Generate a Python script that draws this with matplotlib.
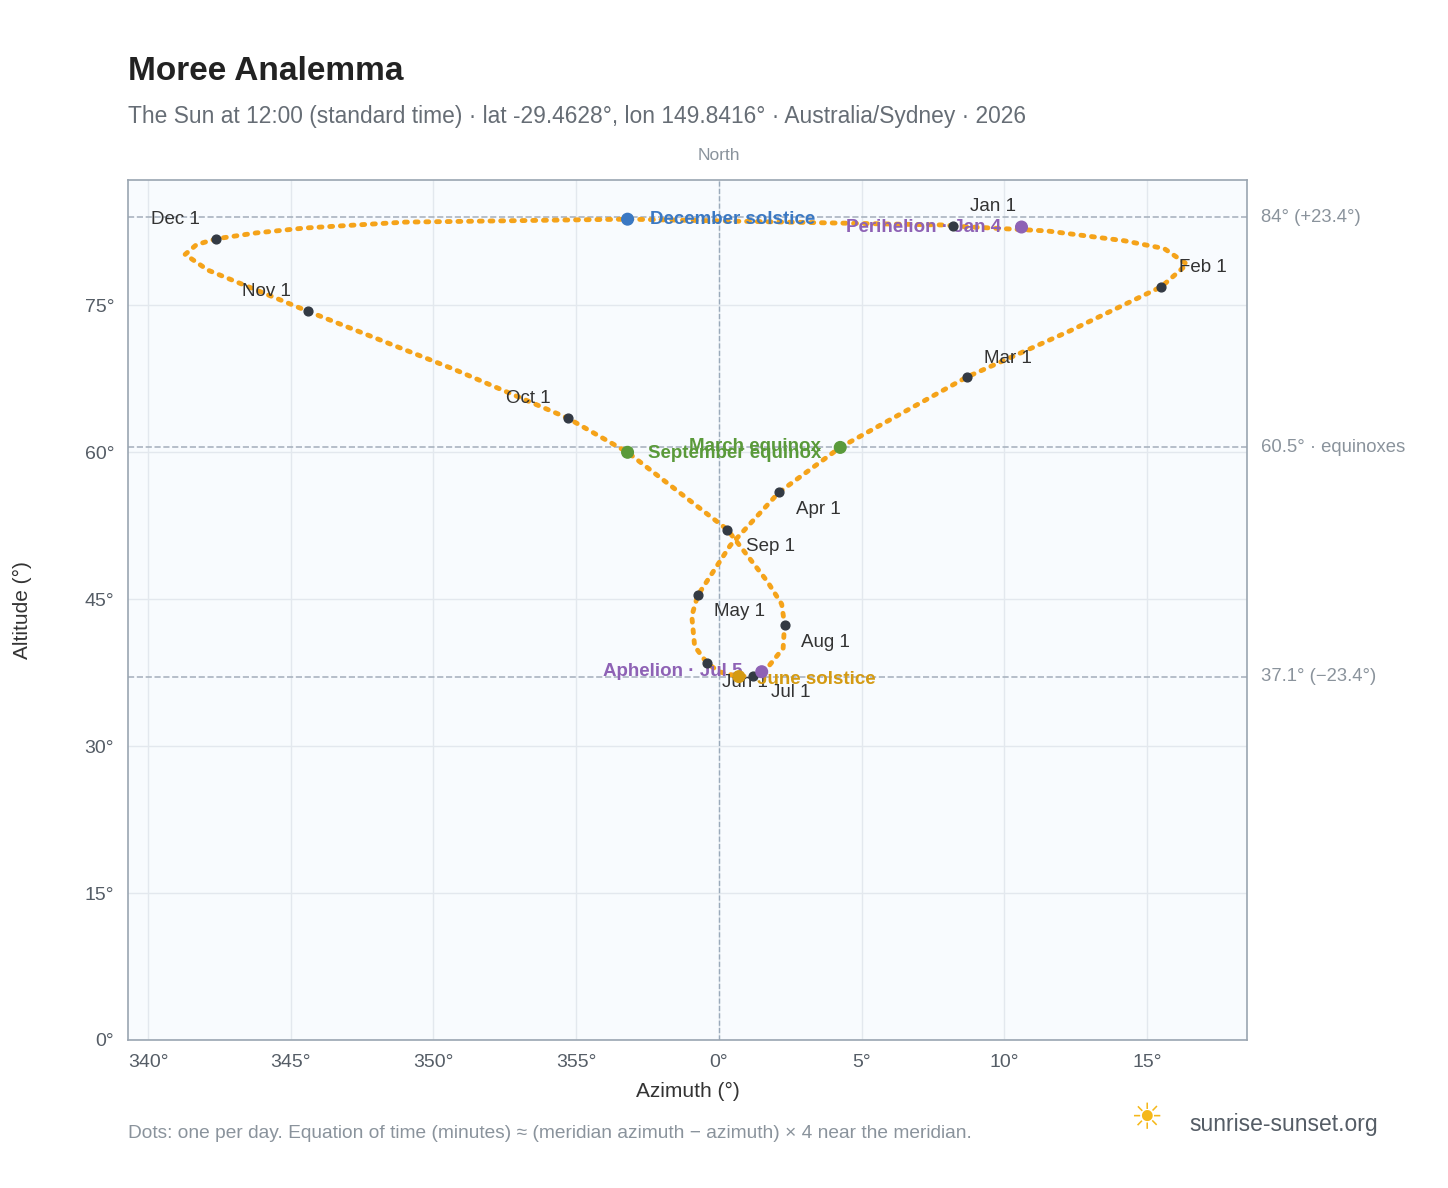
import matplotlib.pyplot as plt

plt.rcParams['font.family'] = ['Liberation Sans', 'DejaVu Sans']

# sun position at 12:00 (azimuth west of north as negative)
path_az = [8.2, 11.5, 14.2, 15.6, 16.4, 15.5, 12.3, 8.7, 4.25, 2.1, 0.4, -0.74, -0.95, -0.85,
           -0.42, 0.0, 0.7, 1.2, 1.7, 2.25, 2.3, 2.2, 1.7, 0.3, -3.2, -5.3, -9.3, -14.4, -17.9,
           -18.7, -18.3, -17.6, -16.2, -14.5, -11.0, -3.2, 8.0]
path_alt = [83.1, 82.6, 81.6, 80.8, 79.2, 76.9, 72.4, 67.7, 60.5, 55.9, 50.5, 45.4, 43.3, 40.2,
            38.5, 37.6, 37.1, 37.2, 38.0, 40.0, 42.4, 44.5, 46.8, 52.1, 60.0, 63.5, 68.5, 74.4,
            78.6, 80.2, 81.2, 81.8, 82.4, 82.9, 83.5, 83.8, 83.2]

months = ['Jan 1', 'Feb 1', 'Mar 1', 'Apr 1', 'May 1', 'Jun 1', 'Jul 1', 'Aug 1', 'Sep 1',
          'Oct 1', 'Nov 1', 'Dec 1']
month_az = [8.2, 15.5, 8.7, 2.1, -0.74, -0.42, 1.2, 2.3, 0.3, -5.3, -14.4, -17.6]
month_alt = [83.1, 76.9, 67.7, 55.9, 45.4, 38.5, 37.2, 42.4, 52.1, 63.5, 74.4, 81.8]
month_off = [(12, 14), (13, 14), (12, 13), (12, -12), (12, -12), (11, -14), (13, -12),
             (12, -13), (13, -12), (-12, 14), (-12, 14), (-12, 14)]
month_ha = ['left'] * 9 + ['right'] * 3

events = ['December solstice', 'March equinox', 'September equinox', 'June solstice',
          'Perihelion · Jan 4', 'Aphelion · Jul 5']
event_az = [-3.2, 4.25, -3.2, 0.7, 10.6, 1.5]
event_alt = [83.8, 60.5, 60.0, 37.1, 83.0, 37.6]
event_col = ['#3a78c3', '#5a9a3a', '#5a9a3a', '#d49a12', '#8e62b5', '#8e62b5']
event_off = [(16, 0), (-14, 1), (15, -1), (13, -2), (-15, 0), (-14, 0)]
event_ha = ['left', 'right', 'left', 'left', 'right', 'right']

ref_alt = [84.0, 60.5, 37.1]
ref_lbl = ['84° (+23.4°)', '60.5° · equinoxes', '37.1° (−23.4°)']

fig = plt.figure(figsize=(14.48, 11.88), dpi=100)
ax = fig.add_axes([128 / 1448, 1 - 1040 / 1188, 1119 / 1448, 860 / 1188])
ax.set_facecolor('#f8fbfe')
ax.set_xlim(-20.7, 18.5)
ax.set_ylim(0, 87.8)
ax.grid(color='#e3e8ee', lw=1)
ax.set_axisbelow(True)
for s in ax.spines.values():
    s.set_color('#9aa5b1')
    s.set_linewidth(1.2)

xt = [-20, -15, -10, -5, 0, 5, 10, 15]
ax.set_xticks(xt)
ax.set_xticklabels(['%d°' % (v % 360) for v in xt])
ax.set_yticks([0, 15, 30, 45, 60, 75])
ax.set_yticklabels(['%d°' % v for v in [0, 15, 30, 45, 60, 75]])
ax.tick_params(colors='#555d66', labelsize=14, length=0, pad=10)
ax.set_xlabel('Azimuth (°)', fontsize=15, color='#333', labelpad=8)
ax.set_ylabel('Altitude (°)', fontsize=15, color='#333', labelpad=38)

ax.axvline(0, color='#9aaabb', ls='--', lw=1)
ax.text(0, 89.5, 'North', ha='center', va='bottom', fontsize=12.5, color='#8a939c')
for a, l in zip(ref_alt, ref_lbl):
    ax.axhline(a, color='#aab4c0', ls='--', lw=1.2)
    ax.text(19.0, a, l, va='center', fontsize=13.3, color='#8a939c')

ax.plot(path_az + path_az[:1], path_alt + path_alt[:1], color='#f5a31a', lw=3.5,
        ls=(0, (0.6, 1.6)), dash_capstyle='round')

ax.scatter(month_az, month_alt, s=40, color='#333a44', zorder=4)
for x, y, t, o, h in zip(month_az, month_alt, months, month_off, month_ha):
    ax.annotate(t, (x, y), xytext=o, textcoords='offset points', fontsize=13.5, color='#333',
                va='center', ha=h)

ax.scatter(event_az, event_alt, s=70, color=event_col, zorder=5)
for x, y, t, c, o, h in zip(event_az, event_alt, events, event_col, event_off, event_ha):
    ax.annotate(t, (x, y), xytext=o, textcoords='offset points', fontsize=13.5, color=c,
                fontweight='bold', va='center', ha=h)

fig.text(128 / 1448, 1 - 72 / 1188, 'Moree Analemma', fontsize=24, fontweight='bold',
         color='#222', va='center')
fig.text(128 / 1448, 1 - 116 / 1188,
         'The Sun at 12:00 (standard time) · lat -29.4628°, lon 149.8416° · Australia/Sydney · 2026',
         fontsize=16.4, color='#666d75', va='center')
fig.text(128 / 1448, 1 - 1134 / 1188,
         'Dots: one per day. Equation of time (minutes) ≈ (meridian azimuth − azimuth) × 4 near the meridian.',
         fontsize=13.8, color='#8a939c', va='center')
fig.text(1189 / 1448, 1 - 1125 / 1188, 'sunrise-sunset.org', fontsize=16.5, color='#555d66',
         va='center')
fig.text(1146 / 1448, 1 - 1120 / 1188, '☀', fontsize=26, color='#f5b81a', ha='center',
         va='center')

fig.savefig('out.png', dpi=100)
